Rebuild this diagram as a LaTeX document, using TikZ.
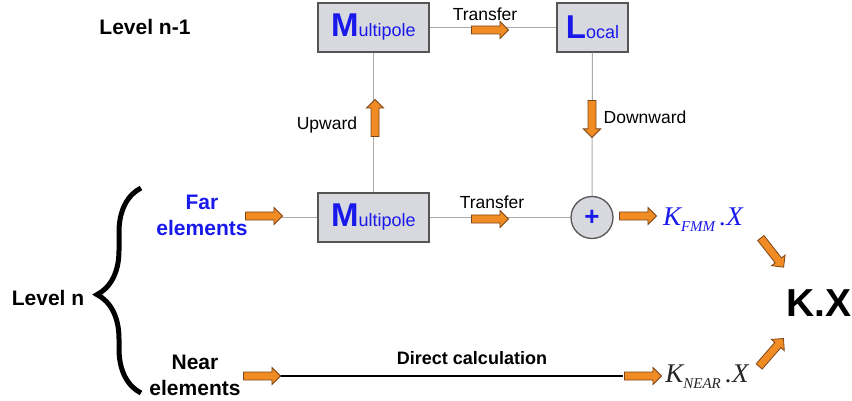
\documentclass[tikz,border=0pt]{standalone}
\usepackage{fontspec}
\setsansfont{Liberation Sans}
\renewcommand{\familydefault}{\sfdefault}
\newfontfamily\kfont{Liberation Serif}
\usetikzlibrary{shapes.arrows}
\usetikzlibrary{decorations.pathreplacing}
\definecolor{boxfill}{RGB}{216,217,223}
\definecolor{boxline}{RGB}{85,85,85}
\definecolor{linkgray}{RGB}{170,170,170}
\definecolor{orfill}{RGB}{240,140,35}
\definecolor{orline}{RGB}{125,70,25}
\definecolor{fmmblue}{RGB}{25,25,235}
\tikzset{box/.style = {draw=boxline, fill=boxfill, line width=1.3pt, minimum height=49pt, inner sep=0}}
\tikzset{link/.style = {draw=linkgray, line width=1pt}}
\tikzset{oarrow/.style = {single arrow, fill=orfill, draw=orline, line width=0.8pt,
                          minimum height=37pt, inner sep=3.6pt, single arrow head extend=4.6pt}}
\tikzset{lbl/.style = {inner sep=0, font=\fontsize{17.5}{20}\selectfont}}
\tikzset{bold/.style = {inner sep=0, align=center, font=\fontsize{21}{26}\selectfont\bfseries}}
\newcommand{\boxtext}[2]{{\fontsize{33}{33}\selectfont\bfseries #1}{\fontsize{18}{18}\selectfont #2}}

\begin{document}
\begin{tikzpicture}[x=1pt, y=-1pt]
      \useasboundingbox (0, 0) rectangle (852, 401);
      % level n-1
      \node [bold] (lvtop) at (145, 27) {Level n-1};
      \node [box, minimum width=111pt, text=fmmblue] (mptop) at (373.5, 27.5) {\boxtext{M}{ultipole}};
      \node [box, minimum width=71pt, text=fmmblue] (local) at (592.5, 27.5) {\boxtext{L}{ocal}};
      % level n
      \node [box, minimum width=111pt, text=fmmblue] (mpbot) at (373.5, 217.5) {\boxtext{M}{ultipole}};
      \node [circle, draw=boxline, fill=boxfill, line width=1.3pt, minimum size=42pt, inner sep=0,
             text=fmmblue, font=\fontsize{26}{26}\selectfont\bfseries] (plus) at (592, 217.5) {+};
      \node [bold, text=fmmblue] (far) at (202, 215) {Far\\elements};
      \node [bold] (near) at (195, 375) {Near\\elements};
      \node [bold] (lvbot) at (48, 298) {Level n};
      \node [inner sep=0, text=fmmblue, font=\kfont\itshape\fontsize{27}{27}\selectfont] (kfmm) at (703, 220)
            {K\raisebox{-6pt}{\fontsize{15}{15}\selectfont FMM}\,.X};
      \node [inner sep=0, text=black!85, font=\kfont\itshape\fontsize{27}{27}\selectfont] (knear) at (707, 377)
            {K\raisebox{-6pt}{\fontsize{15}{15}\selectfont NEAR}\,.X};
      \node [inner sep=0, font=\fontsize{39}{39}\selectfont\bfseries] (kx) at (819, 303) {K.X};
      % connectors
      \draw [link] (mptop) -- (local);
      \draw [link] (mpbot) -- (mptop);
      \draw [link] (local) -- (plus);
      \draw [link] (mpbot) -- (plus);
      \coordinate (fartip) at (280, 217.5);
      \draw [link] (fartip) -- (mpbot);
      \coordinate (nearstart) at (278, 376);
      \coordinate (nearend) at (623, 376);
      \draw [line width=1.2pt] (nearstart) -- (nearend);
      % orange arrows
      \node [oarrow] (trtop) at (488, 30) {};
      \node [oarrow] (trbot) at (488, 219) {};
      \node [oarrow, rotate=90] (up) at (375, 120) {};
      \node [oarrow, rotate=-90] (down) at (592, 117) {};
      \node [oarrow] (farin) at (262, 216) {};
      \node [oarrow] (plusout) at (636, 216) {};
      \node [oarrow] (nearin) at (260, 376) {};
      \node [oarrow] (nearout) at (641, 376) {};
      \node [oarrow, rotate=-52] (diagdown) at (771, 251) {};
      \node [oarrow, rotate=49] (diagup) at (770, 354) {};
      % labels
      \node [lbl] (lbtrtop) at (485, 14) {Transfer};
      \node [lbl] (lbtrbot) at (492, 202) {Transfer};
      \node [lbl] (lbup) at (327, 125) {Upward};
      \node [lbl] (lbdown) at (645, 117) {Downward};
      \node [inner sep=0, font=\fontsize{18}{18}\selectfont\bfseries] (lbdirect) at (472, 358) {Direct calculation};
      % brace
      \draw [line width=5pt, decorate, decoration={brace, amplitude=44pt, aspect=0.48}] (141, 393) -- (141, 188);
    \end{tikzpicture}
\end{document}
